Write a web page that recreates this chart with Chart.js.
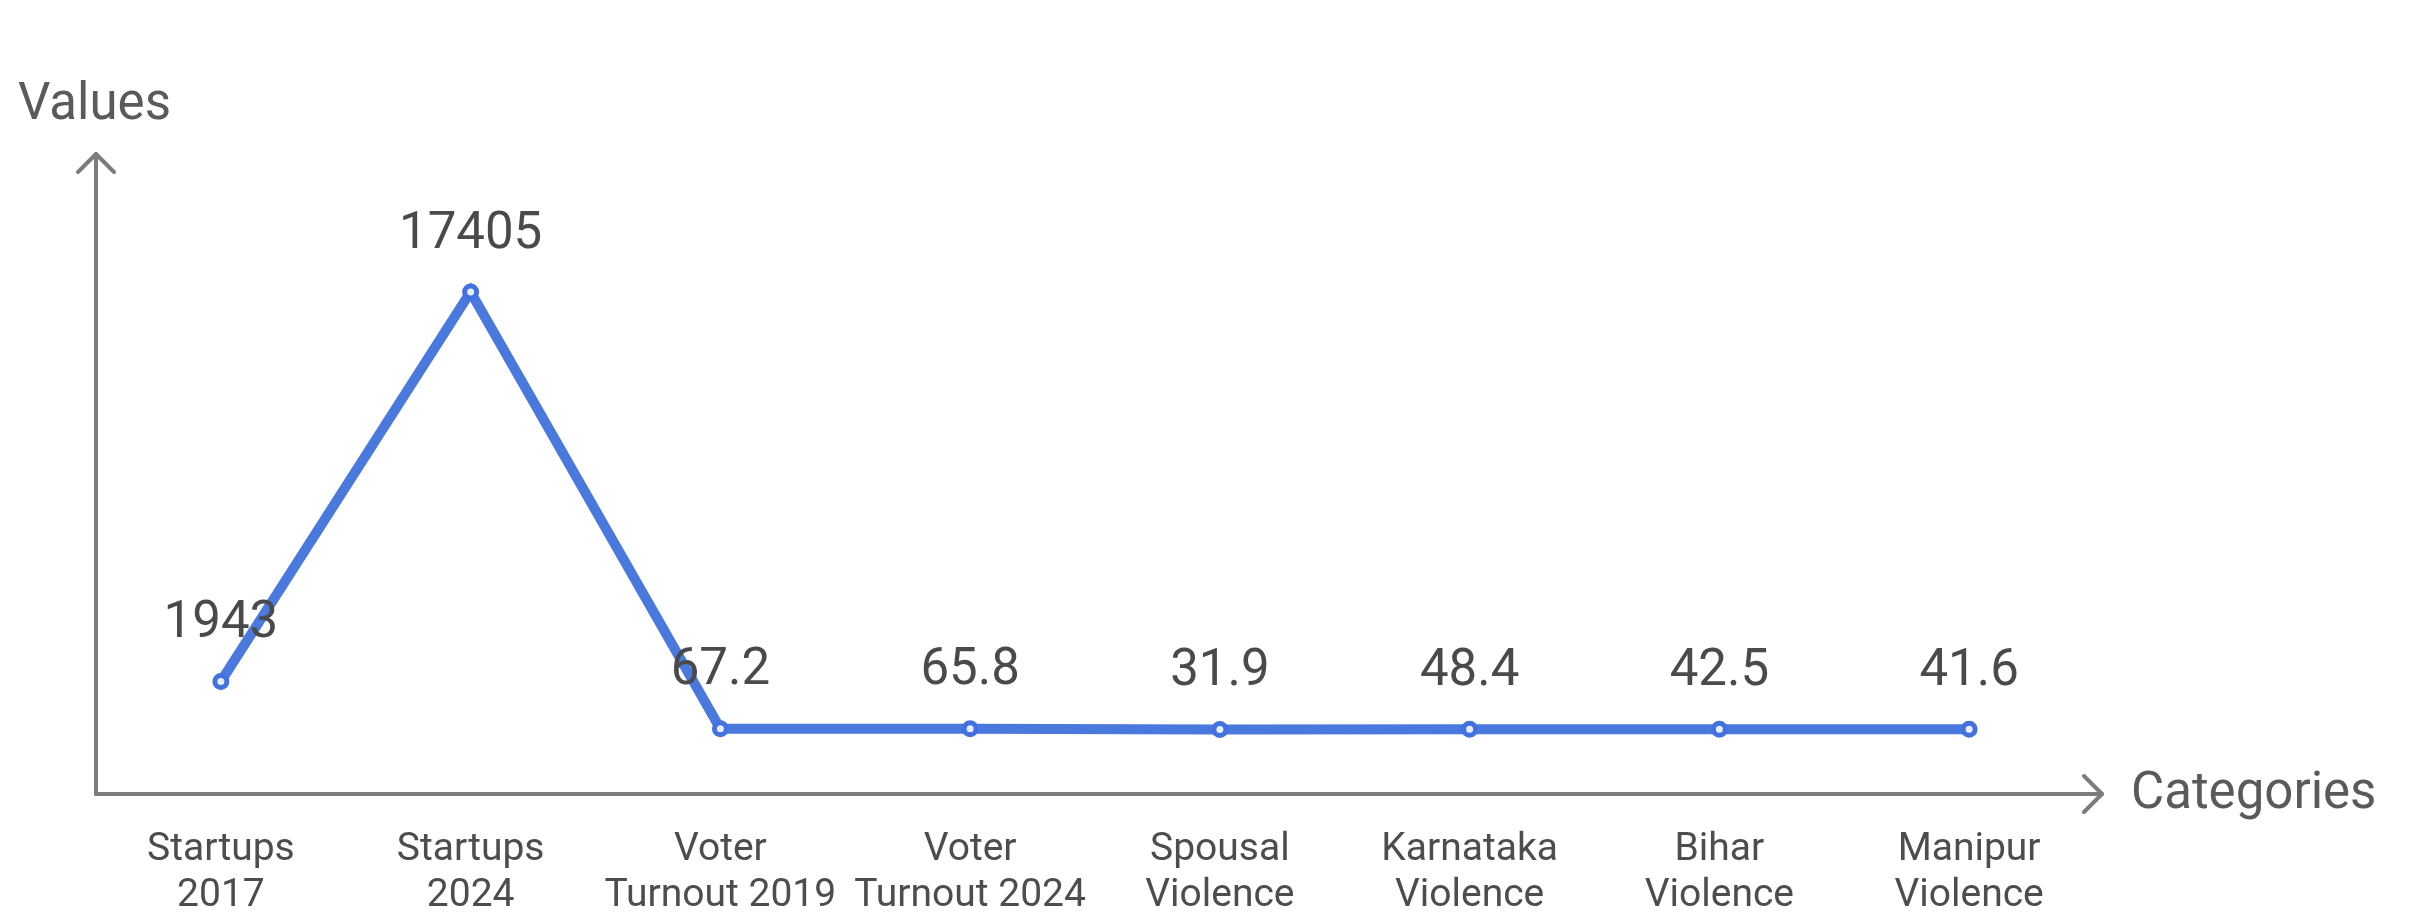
<!DOCTYPE html>
<html>
<head>
<meta charset="utf-8">
<script src="https://cdn.jsdelivr.net/npm/chart.js@4/dist/chart.umd.min.js"></script>
<style>
  html, body { margin: 0; padding: 0; background: #ffffff; }
  #wrap { width: 2412px; height: 914px; position: relative; }
  canvas { display: block; }
</style>
</head>
<body>
<div id="wrap"><canvas id="c" width="2412" height="914"></canvas></div>
<script>
const categories = [
  ["Startups", "2017"],
  ["Startups", "2024"],
  ["Voter", "Turnout 2019"],
  ["Voter", "Turnout 2024"],
  ["Spousal", "Violence"],
  ["Karnataka", "Violence"],
  ["Bihar", "Violence"],
  ["Manipur", "Violence"]
];
const values = [1943, 17405, 67.2, 65.8, 31.9, 48.4, 42.5, 41.6];
const valueLabels = ["1943", "17405", "67.2", "65.8", "31.9", "48.4", "42.5", "41.6"];
const xTitle = "Categories";
const yTitle = "Values";

const FONT = "Roboto, 'Noto Sans', sans-serif";
const AXIS_COLOR = "#7c7c7c";
const TEXT_COLOR = "#4d4d4d";

const axesPlugin = {
  id: 'arrowAxes',
  afterDraw(chart) {
    const { ctx, chartArea } = chart;
    const x0 = chartArea.left, y0 = chartArea.bottom;
    const yTop = chartArea.top;
    const xEnd = chartArea.right + 8;
    ctx.save();
    ctx.strokeStyle = AXIS_COLOR;
    ctx.lineWidth = 4;
    ctx.lineCap = 'round';
    ctx.lineJoin = 'round';
    // y axis
    ctx.beginPath();
    ctx.moveTo(x0, y0);
    ctx.lineTo(x0, yTop);
    ctx.stroke();
    ctx.beginPath();
    ctx.moveTo(x0 - 18, yTop + 18);
    ctx.lineTo(x0, yTop);
    ctx.lineTo(x0 + 18, yTop + 18);
    ctx.stroke();
    // x axis
    ctx.beginPath();
    ctx.moveTo(x0, y0);
    ctx.lineTo(xEnd, y0);
    ctx.stroke();
    ctx.beginPath();
    ctx.moveTo(xEnd - 18, y0 - 18);
    ctx.lineTo(xEnd, y0);
    ctx.lineTo(xEnd - 18, y0 + 18);
    ctx.stroke();
    // titles
    ctx.fillStyle = "#5a5a5a";
    ctx.font = "51px " + FONT;
    ctx.textBaseline = 'middle';
    ctx.textAlign = 'left';
    ctx.fillText(yTitle, x0 - 78, yTop - 48);
    ctx.fillText(xTitle, xEnd + 29, y0 + 1);
    ctx.restore();
  }
};

const labelPlugin = {
  id: 'valueLabels',
  afterDatasetsDraw(chart) {
    const { ctx } = chart;
    const meta = chart.getDatasetMeta(0);
    ctx.save();
    ctx.fillStyle = "#4a4a4a";
    ctx.font = "51px " + FONT;
    ctx.textAlign = 'center';
    ctx.textBaseline = 'middle';
    meta.data.forEach((pt, i) => {
      ctx.fillText(valueLabels[i], pt.x, pt.y - 57);
    });
    ctx.restore();
  }
};

new Chart(document.getElementById('c'), {
  type: 'line',
  data: {
    labels: categories,
    datasets: [{
      data: values,
      borderColor: '#4a79de',
      borderWidth: 10,
      backgroundColor: '#e6ecfb',
      pointBackgroundColor: '#e6ecfb',
      pointBorderColor: '#4471e0',
      pointBorderWidth: 5,
      pointRadius: 6,
      tension: 0,
      fill: false
    }]
  },
  options: {
    responsive: false,
    animation: false,
    devicePixelRatio: 1,
    layout: { padding: { left: 96, right: 318, top: 154, bottom: 0 } },
    plugins: { legend: { display: false }, tooltip: { enabled: false } },
    scales: {
      x: {
        type: 'category',
        offset: true,
        grid: { display: false, drawTicks: false },
        border: { display: false },
        ticks: {
          autoSkip: false,
          maxRotation: 0,
          minRotation: 0,
          padding: 33,
          color: TEXT_COLOR,
          font: { family: FONT, size: 39, lineHeight: 1.19 }
        },
        afterFit(scale) { scale.height = 120; }
      },
      y: {
        display: false,
        min: -2525,
        max: 22880
      }
    }
  },
  plugins: [axesPlugin, labelPlugin]
});
</script>
</body>
</html>
